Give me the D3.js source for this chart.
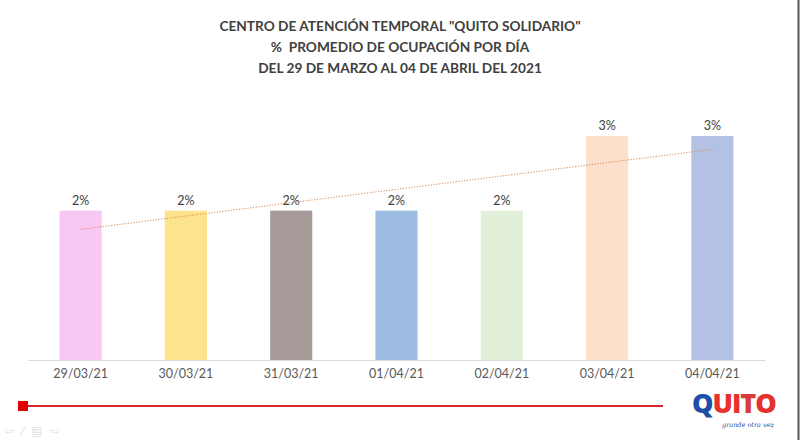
<!DOCTYPE html>
<html><head><meta charset="utf-8">
<script src="https://cdn.jsdelivr.net/npm/d3@7"></script>
<style>body{margin:0;background:#fff}svg{display:block}</style>
</head><body><svg id="c" width="800" height="445"></svg>
<script>
const categories = ["29/03/21","30/03/21","31/03/21","01/04/21","02/04/21","03/04/21","04/04/21"];
const values = [2,2,2,2,2,3,3];
const valueLabels = ["2%","2%","2%","2%","2%","3%","3%"];
const barColors = ["#F9C7F4","#FDE38C","#A79B99","#9EBDE3","#E2EFD9","#FBE0CC","#B3C1E5"];
const titleLines = ['CENTRO DE ATENCIÓN TEMPORAL "QUITO SOLIDARIO"','%  PROMEDIO DE OCUPACIÓN POR DÍA','DEL 29 DE MARZO AL 04 DE ABRIL DEL 2021'];

const svg = d3.select("#c");
const font = "Lato, 'Open Sans', sans-serif";
const x = d3.scaleBand().domain(categories).range([28,765]).paddingInner(0.6).paddingOuter(0.3);
const y = d3.scaleLinear().domain([0,3]).range([360,136]);

// title
svg.append("g").selectAll("text").data(titleLines).join("text")
  .attr("x",400).attr("y",(d,i)=>31+i*21).attr("text-anchor","middle")
  .style("white-space","pre")
  .attr("font-family",font).attr("font-weight","bold").attr("font-size",13.7)
  .attr("fill","#404040").text(d=>d);

// bars
svg.append("g").selectAll("rect").data(values).join("rect")
  .attr("x",(d,i)=>x(categories[i])).attr("width",x.bandwidth())
  .attr("y",d=>y(d)).attr("height",d=>y(0)-y(d))
  .attr("fill",(d,i)=>barColors[i]);

// axis
const ax = svg.append("g").attr("transform","translate(0,360)").call(d3.axisBottom(x).tickSize(0).tickPadding(9));
ax.select(".domain").attr("stroke","#d9d9d9");
ax.selectAll("text").attr("font-family",font).attr("font-size",12.5).attr("fill","#595959");

// value labels
svg.append("g").selectAll("text").data(values).join("text")
  .attr("x",(d,i)=>x(categories[i])+x.bandwidth()/2).attr("y",d=>y(d)-6)
  .attr("text-anchor","middle").attr("font-family",font).attr("font-size",12.5)
  .attr("fill","#404040").text((d,i)=>valueLabels[i]);

// linear trendline
const n = values.length, xs = d3.range(n);
const mx = d3.mean(xs), my = d3.mean(values);
const slope = d3.sum(xs,(xi,i)=>(xi-mx)*(values[i]-my))/d3.sum(xs,xi=>(xi-mx)**2);
const icpt = my - slope*mx;
const cx = i => x(categories[i])+x.bandwidth()/2;
svg.append("line").attr("x1",cx(0)).attr("x2",cx(n-1))
  .attr("y1",y(icpt)).attr("y2",y(icpt+slope*(n-1)))
  .attr("stroke","#E0894A").attr("stroke-width",1).attr("stroke-dasharray","1.2,1.6");

// decorative slide elements
svg.append("line").attr("x1",22).attr("x2",663).attr("y1",406).attr("y2",406).attr("stroke","#D9262B").attr("stroke-width",2);
svg.append("rect").attr("x",18).attr("y",401).attr("width",10).attr("height",10).attr("fill","#E00000");
svg.append("line").attr("x1",798.5).attr("x2",798.5).attr("y1",0).attr("y2",440).attr("stroke","#555").attr("stroke-width",2);
svg.append("text").attr("x",4).attr("y",435).style("white-space","pre").attr("font-family","DejaVu Sans").attr("font-size",12).attr("fill","#e0e0e0").text("⇦  ⁄  ▤  ⇨");

// logo
const lg = svg.append("text").attr("x",692).attr("y",413).attr("font-family","'Open Sans', Lato, sans-serif").attr("font-weight","900").attr("font-size",27).attr("letter-spacing",-1);
[["Q","#1E4FA8"],["U","#E8322E"],["I","#E8322E"],["T","#D93A3A"],["O","#E4312B"]].forEach(([t,c])=>lg.append("tspan").attr("fill",c).text(t));
svg.append("text").attr("x",748).attr("y",427).attr("text-anchor","middle").attr("font-family","DejaVu Serif").attr("font-style","italic").attr("font-size",6.5).attr("fill","#1E4FA8").text("grande otra vez");
</script></body></html>
